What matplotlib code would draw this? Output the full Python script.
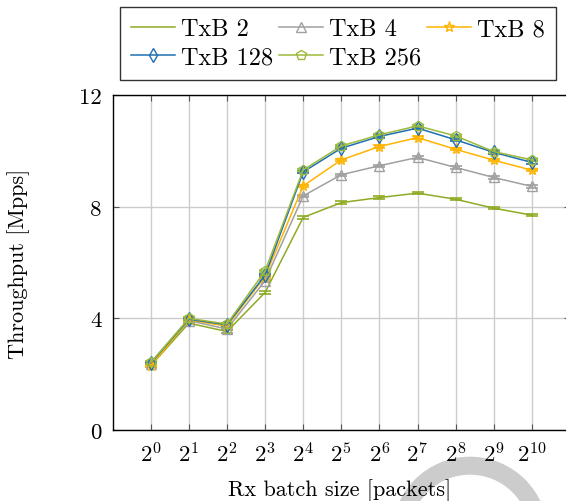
import matplotlib
matplotlib.use("Agg")
import matplotlib.pyplot as plt
from matplotlib.patches import Wedge

plt.rcParams['font.family'] = 'cmr10'
plt.rcParams['mathtext.fontset'] = 'cm'
plt.rcParams['axes.formatter.use_mathtext'] = True

exponents = list(range(11))
tick_labels = [f'$2^{{{e}}}$' for e in exponents]

txb_2 = [2.30, 3.83, 3.53, 4.93, 7.62, 8.15, 8.33, 8.49, 8.27, 7.95, 7.70]
txb_4 = [2.35, 3.92, 3.62, 5.35, 8.39, 9.15, 9.47, 9.77, 9.41, 9.05, 8.73]
txb_8 = [2.30, 3.95, 3.72, 5.50, 8.75, 9.68, 10.16, 10.48, 10.06, 9.67, 9.31]
txb_128 = [2.40, 3.97, 3.77, 5.55, 9.25, 10.10, 10.52, 10.82, 10.40, 9.95, 9.59]
txb_256 = [2.42, 4.00, 3.80, 5.70, 9.32, 10.18, 10.58, 10.90, 10.54, 9.98, 9.68]

series = [
    ('TxB 2', txb_2, '#8dab23', 'none'),
    ('TxB 4', txb_4, '#a0a0a0', '^'),
    ('TxB 8', txb_8, '#ffb400', '*'),
    ('TxB 128', txb_128, '#1f6fb2', 'd'),
    ('TxB 256', txb_256, '#9cbb3c', 'p'),
]

fig = plt.figure(figsize=(5.66, 5.02), dpi=100)
ax = fig.add_axes([0.199, 0.1414, 0.808, 0.667])
ax.patch.set_alpha(0)

handles = []
for name, vals, color, marker in series:
    ax.errorbar(exponents, vals, yerr=0.04, fmt='none', ecolor=color,
                elinewidth=1, capsize=4, capthick=1.2, zorder=3)
    h, = ax.plot(exponents, vals, color=color, linewidth=1.1, marker=marker,
                 markersize=7 if marker != '*' else 8, markerfacecolor='none',
                 markeredgecolor=color, markeredgewidth=1.0, label=name, zorder=4)
    handles.append(h)

ax.set_xlim(-1, 11)
ax.set_ylim(0, 12)
ax.set_xticks(exponents)
ax.set_xticklabels(tick_labels)
ax.set_yticks([0, 4, 8, 12])
ax.set_yticklabels(['0', '4', '8', '12'])
ax.tick_params(axis='both', direction='in', length=4, width=0.8, color='#555555',
               labelsize=16.5, top=True, right=True, pad=8)
ax.grid(True, color='#cccccc', linewidth=1.0)
ax.set_axisbelow(True)
for s in ax.spines.values():
    s.set_linewidth(1.0)

ax.set_xlabel('Rx batch size [packets]', fontsize=16)
ax.xaxis.set_label_coords(0.497, -0.143)
ax.set_ylabel('Throughput [Mpps]', fontsize=16)
ax.yaxis.set_label_coords(-0.181, 0.5)

# row-wise order like pgfplots: TxB 2, 4, 8 / TxB 128, 256
order = [0, 3, 1, 4, 2]
leg = fig.legend(handles=[handles[i] for i in order], ncol=3, loc='upper left',
                 bbox_to_anchor=(120 / 566, 1 - 8 / 502), fontsize=17.5,
                 frameon=True, fancybox=False, edgecolor='black',
                 handlelength=1.8, handletextpad=0.25, columnspacing=0.25,
                 borderpad=0.45, labelspacing=0.28, borderaxespad=0)
leg.get_frame().set_linewidth(1.0)

# faint watermark arc at the bottom right, behind everything
fig.patches.append(Wedge((4.70, -0.337), 0.78, 0, 180, width=0.18,
                         transform=fig.dpi_scale_trans, facecolor='#cccccc',
                         edgecolor='none', zorder=-1))

fig.savefig('out.png', dpi=100)
